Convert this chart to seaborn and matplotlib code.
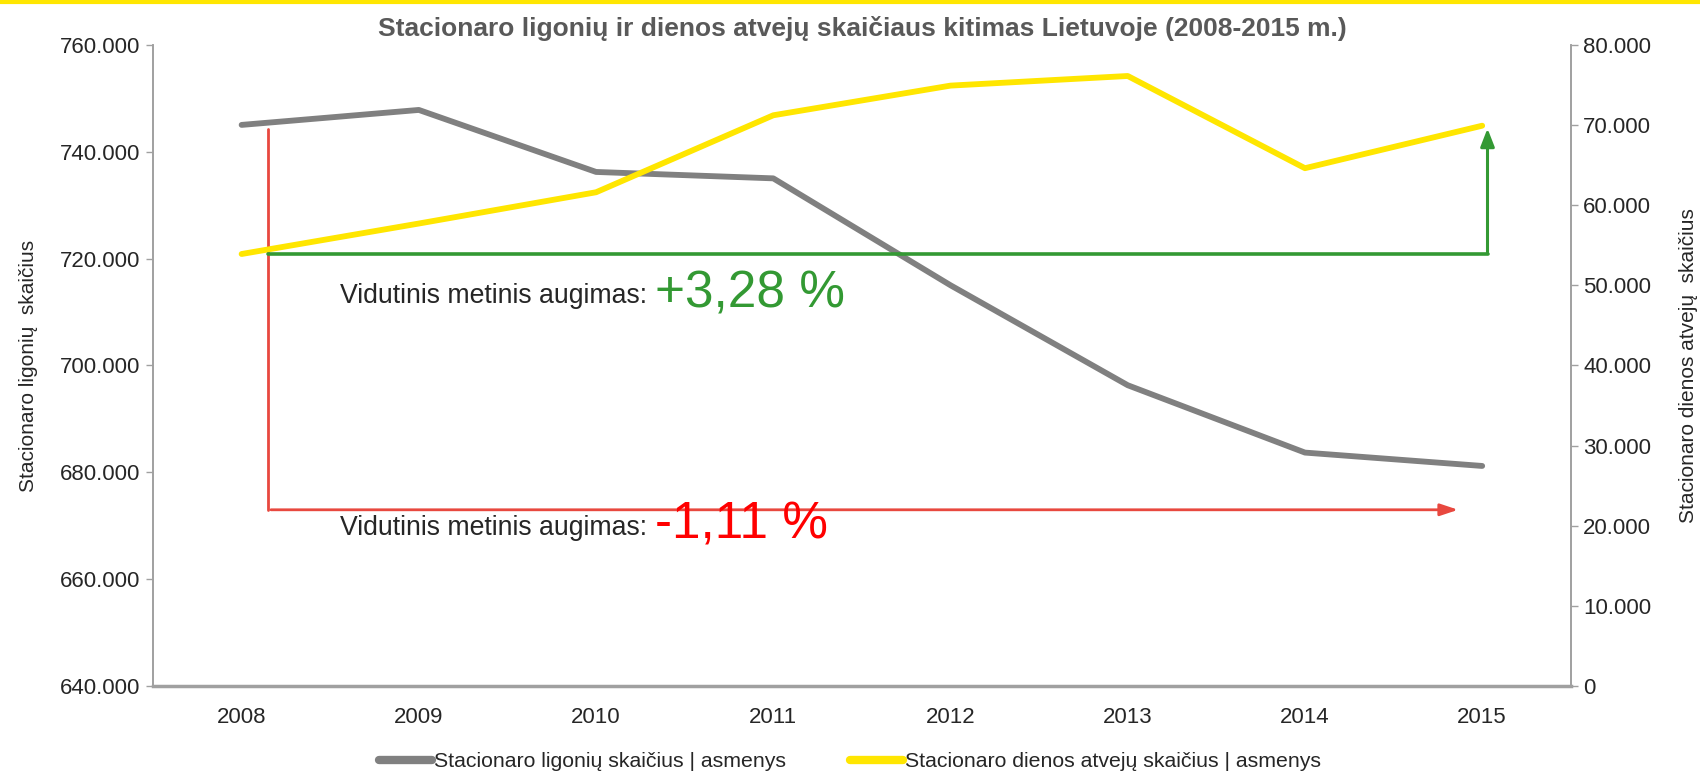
import matplotlib
matplotlib.use("Agg")
import matplotlib.pyplot as plt
from matplotlib.lines import Line2D
from matplotlib.ticker import FixedLocator, FuncFormatter
import numpy as np
import pandas as pd
import seaborn as sns

years = ["2008", "2009", "2010", "2011", "2012", "2013", "2014", "2015"]
inpatients = [745.0, 747.8, 736.2, 735.0, 715.0, 696.3, 683.7, 681.2]   # thousands, left axis
day_cases = [53.9, 57.7, 61.6, 71.2, 74.9, 76.1, 64.6, 69.9]            # thousands, right axis
left_ticks = [640, 660, 680, 700, 720, 740, 760]
right_ticks = [0, 10, 20, 30, 40, 50, 60, 70, 80]
green_growth = "+3,28 %"
red_growth = "-1,11 %"
red_level = 673.0

GRAY = "#808080"
YELLOW = "#FFE600"
GREEN = "#339933"
RED_LINE = "#E8483F"
RED_TEXT = "#FF0000"

sns.set_theme(style="white")
plt.rcParams["font.family"] = ["Liberation Sans Narrow", "Liberation Sans", "DejaVu Sans"]

df = pd.DataFrame({"pos": np.arange(len(years)), "inpatients": inpatients, "day_cases": day_cases})

fig = plt.figure(figsize=(17, 7.71), dpi=100)
ax = fig.add_axes([0.09, 0.11, 0.834, 0.832])
ax2 = ax.twinx()

sns.lineplot(data=df, x="pos", y="inpatients", ax=ax, color=GRAY, lw=4.2, label="_a",
             legend=False)
sns.lineplot(data=df, x="pos", y="day_cases", ax=ax2, color=YELLOW, lw=4.2, label="_b",
             legend=False)

n = len(years)
ax.set_xlim(-0.5, n - 0.5)
ax.set_ylim(640, 760)
ax2.set_ylim(0, 80)

ax.yaxis.set_major_locator(FixedLocator(left_ticks))
ax.yaxis.set_major_formatter(FuncFormatter(lambda v, _: f"{int(v)}.000"))
ax2.yaxis.set_major_locator(FixedLocator(right_ticks))
ax2.yaxis.set_major_formatter(FuncFormatter(lambda v, _: "0" if v == 0 else f"{int(v)}.000"))

# category axis: ticks on the boundaries, labels in the middle
ax.set_xticks(np.arange(-0.5, n, 1.0))
ax.set_xticklabels([])
ax.set_xticks(np.arange(n), minor=True)
ax.set_xticklabels(years, minor=True)
ax.tick_params(axis="x", which="major", length=8, width=1, color="#A0A0A0", direction="out")
ax.tick_params(axis="x", which="minor", length=0, pad=15, labelsize=16)
ax.tick_params(axis="y", length=5, width=1, color="#A0A0A0", labelsize=16, pad=4)
ax2.tick_params(axis="y", length=5, width=1, color="#A0A0A0", labelsize=16, pad=4)

for a in (ax, ax2):
    a.spines["top"].set_visible(False)
    for side in ("left", "right", "bottom"):
        a.spines[side].set_color("#A0A0A0")
        a.spines[side].set_linewidth(1.2)
ax.spines["bottom"].set_linewidth(2.5)

body = ["Liberation Sans", "DejaVu Sans"]
ax.set_xlabel("")
ax.set_ylabel("Stacionaro ligonių  skaičius", fontsize=15, family=body, labelpad=16)
ax2.set_ylabel("Stacionaro dienos atvejų  skaičius", fontsize=15, family=body, labelpad=20)

ax.set_title("Stacionaro ligonių ir dienos atvejų skaičiaus kitimas Lietuvoje (2008-2015 m.)",
             fontsize=19, fontweight="bold", color="#595959", pad=6)

# growth annotations
x_start = 0.15
ax2.plot([x_start, n - 1 + 0.03], [day_cases[0], day_cases[0]], color=GREEN, lw=2.6)
ax2.annotate("", xy=(n - 1 + 0.03, day_cases[-1]), xytext=(n - 1 + 0.03, day_cases[0] - 0.15),
             arrowprops=dict(arrowstyle="-|>,head_length=0.9,head_width=0.35", color=GREEN, lw=2.2))
ax.plot([x_start, x_start], [inpatients[0] - 0.8, red_level], color=RED_LINE, lw=2)
ax.annotate("", xy=(n - 1 - 0.12, red_level), xytext=(x_start, red_level),
            arrowprops=dict(arrowstyle="-|>,head_length=0.9,head_width=0.3", color=RED_LINE, lw=2))

ax.text(0.555, 711.6, "Vidutinis metinis augimas:", fontsize=19.2, family=body, va="baseline")
ax.text(2.33, 710.8, green_growth, fontsize=37, family=body, color=GREEN, va="baseline")
ax.text(0.555, 668.3, "Vidutinis metinis augimas:", fontsize=19.2, family=body, va="baseline")
ax.text(2.33, 667.6, red_growth, fontsize=37, family=body, color=RED_TEXT, va="baseline")

handles = [Line2D([], [], color=GRAY, lw=6, solid_capstyle="round"),
           Line2D([], [], color=YELLOW, lw=6, solid_capstyle="round")]
fig.legend(handles, ["Stacionaro ligonių skaičius | asmenys", "Stacionaro dienos atvejų skaičius | asmenys"],
           loc="lower center", bbox_to_anchor=(0.5, -0.025), ncol=2, frameon=False, fontsize=15.3,
           handlelength=2.5, handletextpad=0.1, columnspacing=3.0)

fig.add_artist(Line2D([0, 1], [0.998, 0.998], transform=fig.transFigure, color=YELLOW, lw=3))

fig.savefig("out.png", dpi=100)
